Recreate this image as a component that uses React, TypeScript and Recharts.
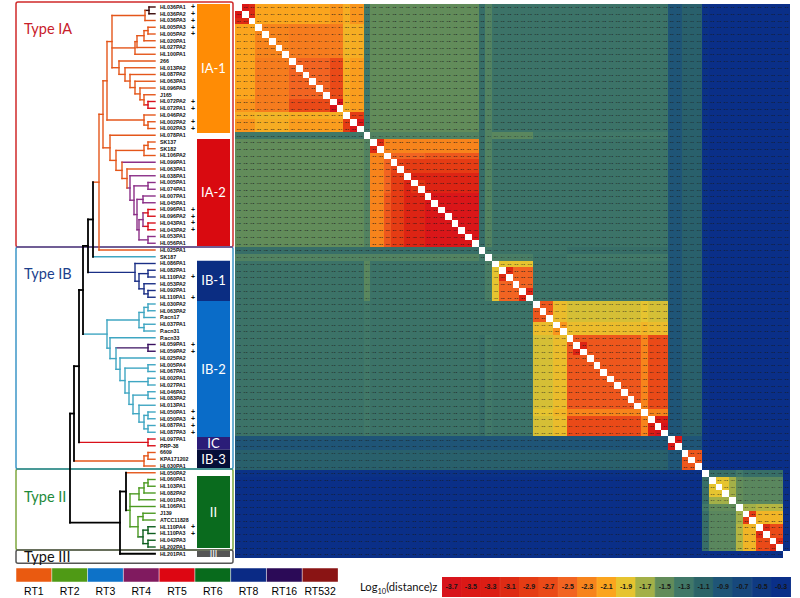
import React from 'react';
import {
  Bar,
  BarChart,
  Cell,
  LabelList,
  ReferenceArea,
  ReferenceLine,
  Scatter,
  ScatterChart,
  XAxis,
  YAxis,
} from 'recharts';

const leafNames = [
  'HL036PA1', 'HL036PA2', 'HL036PA3', 'HL005PA3', 'HL005PA2', 'HL020PA1', 'HL027PA2', 'HL100PA1', '266', 'HL013PA2',
  'HL087PA2', 'HL063PA1', 'HL096PA3', 'J165', 'HL072PA2', 'HL072PA1', 'HL046PA2', 'HL002PA2', 'HL002PA3', 'HL078PA1',
  'SK137', 'SK182', 'HL106PA2', 'HL099PA1', 'HL063PA1', 'HL038PA1', 'HL005PA1', 'HL074PA1', 'HL007PA1', 'HL045PA1',
  'HL096PA1', 'HL096PA2', 'HL043PA1', 'HL043PA2', 'HL053PA1', 'HL056PA1', 'HL025PA1', 'SK187', 'HL086PA1', 'HL082PA1',
  'HL110PA2', 'HL053PA2', 'HL092PA1', 'HL110PA1', 'HL030PA2', 'HL063PA2', 'P.acn17', 'HL037PA1', 'P.acn31', 'P.acn33',
  'HL059PA1', 'HL059PA2', 'HL025PA2', 'HL005PA4', 'HL067PA1', 'HL002PA1', 'HL027PA1', 'HL046PA1', 'HL083PA2', 'HL013PA1',
  'HL050PA1', 'HL050PA3', 'HL087PA1', 'HL087PA3', 'HL097PA1', 'PRP-38', '6609', 'KPA171202', 'HL030PA1', 'HL050PA2',
  'HL060PA1', 'HL103PA1', 'HL082PA2', 'HL001PA1', 'HL106PA1', 'J139', 'ATCC11828', 'HL110PA4', 'HL110PA3', 'HL042PA3',
  'HL202PA1', 'HL201PA1',
];
const plusLeaves = [0, 1, 2, 3, 4, 14, 15, 17, 18, 30, 31, 32, 33, 40, 43, 50, 51, 60, 61, 62, 63, 77, 78];

// heatmap is read as runs of leaves that share a colour, levels[r][c] is the value between run r and run c
const runSizes = [3, 5, 6, 2, 1, 2, 1, 2, 1, 2, 1, 2, 8, 1, 1, 1, 5, 3, 2, 11, 1, 3, 2, 3, 1, 3, 1, 1, 2, 4, 1];
const runLevels = [
  [-3.1],
  [-2.1, -2.3],
  [-2.1, -2.35, -2.5],
  [-2.2, -2.35, -2.7, -3.5],
  [-2.05, -2.0, -2.05, -2.05, -2.9],
  [-2.2, -2.05, -2.15, -2.15, -2.9, -3.3],
  [-1.3, -1.3, -1.3, -1.3, -1.3, -1.3, -1.3],
  [-1.5, -1.5, -1.5, -1.5, -1.5, -1.5, -1.4, -3.1],
  [-1.5, -1.5, -1.5, -1.5, -1.5, -1.5, -1.4, -2.3, -2.5],
  [-1.5, -1.5, -1.5, -1.5, -1.5, -1.5, -1.4, -2.3, -2.5, -2.8],
  [-1.5, -1.5, -1.5, -1.5, -1.5, -1.5, -1.4, -2.3, -2.5, -2.9, -3.0],
  [-1.5, -1.5, -1.5, -1.5, -1.5, -1.5, -1.4, -2.3, -2.5, -2.9, -3.2, -3.0],
  [-1.5, -1.5, -1.5, -1.5, -1.5, -1.5, -1.4, -2.3, -2.6, -2.9, -3.2, -3.2, -3.6],
  [-1.2, -1.2, -1.2, -1.2, -1.2, -1.2, -1.2, -1.2, -1.2, -1.2, -1.2, -1.2, -1.2, -1.3],
  [-1.4, -1.4, -1.4, -1.4, -1.4, -1.4, -1.4, -1.4, -1.4, -1.4, -1.4, -1.4, -1.4, -1.3, -1.3],
  [-1.25, -1.25, -1.25, -1.25, -1.25, -1.25, -1.45, -1.25, -1.25, -1.25, -1.25, -1.25, -1.25, -1.25, -1.35, -1.9],
  [-1.25, -1.25, -1.25, -1.25, -1.25, -1.25, -1.45, -1.25, -1.25, -1.25, -1.25, -1.25, -1.25, -1.25, -1.35, -1.9, -2.5],
  [-1.25, -1.25, -1.25, -1.25, -1.25, -1.25, -1.3, -1.25, -1.25, -1.25, -1.25, -1.25, -1.25, -1.25, -1.25, -1.25, -1.25, -2.6],
  [-1.25, -1.25, -1.25, -1.25, -1.25, -1.25, -1.3, -1.25, -1.25, -1.25, -1.25, -1.25, -1.25, -1.25, -1.25, -1.25, -1.25, -1.95, -2.2],
  [-1.25, -1.25, -1.25, -1.25, -1.25, -1.25, -1.3, -1.25, -1.25, -1.25, -1.25, -1.25, -1.25, -1.2, -1.3, -1.25, -1.25, -1.85, -1.95, -2.6],
  [-1.25, -1.25, -1.25, -1.25, -1.25, -1.25, -1.3, -1.25, -1.25, -1.25, -1.25, -1.25, -1.25, -1.2, -1.3, -1.25, -1.25, -1.9, -2.0, -2.3, -2.3],
  [-1.25, -1.25, -1.25, -1.25, -1.25, -1.25, -1.3, -1.25, -1.25, -1.25, -1.25, -1.25, -1.25, -1.2, -1.3, -1.25, -1.25, -1.85, -1.95, -2.7, -2.3, -3.3],
  [-0.9, -0.9, -0.9, -0.9, -0.9, -0.9, -0.9, -0.9, -0.9, -0.9, -0.9, -0.9, -0.9, -0.9, -0.9, -0.9, -0.9, -0.9, -0.9, -0.9, -0.9, -0.9, -3.3],
  [-1.05, -1.05, -1.05, -1.05, -1.05, -1.05, -1.05, -1.05, -1.05, -1.05, -1.05, -1.05, -1.05, -1.05, -1.05, -1.05, -1.05, -1.05, -1.05, -1.05, -1.05, -1.05, -0.9, -2.6],
  [-0.35, -0.35, -0.35, -0.35, -0.35, -0.35, -0.35, -0.35, -0.35, -0.35, -0.35, -0.35, -0.35, -0.35, -0.35, -0.35, -0.35, -0.35, -0.35, -0.35, -0.35, -0.35, -0.35, -0.35, -0.35],
  [-0.3, -0.3, -0.3, -0.3, -0.3, -0.3, -0.3, -0.3, -0.3, -0.3, -0.3, -0.3, -0.3, -0.3, -0.3, -0.3, -0.3, -0.3, -0.3, -0.3, -0.3, -0.3, -0.3, -0.3, -1.2, -1.9],
  [-0.3, -0.3, -0.3, -0.3, -0.3, -0.3, -0.3, -0.3, -0.3, -0.3, -0.3, -0.3, -0.3, -0.3, -0.3, -0.3, -0.3, -0.3, -0.3, -0.3, -0.3, -0.3, -0.3, -0.3, -1.2, -1.7, -1.7],
  [-0.3, -0.3, -0.3, -0.3, -0.3, -0.3, -0.3, -0.3, -0.3, -0.3, -0.3, -0.3, -0.3, -0.3, -0.3, -0.3, -0.3, -0.3, -0.3, -0.3, -0.3, -0.3, -0.3, -0.3, -1.3, -1.5, -1.5, -1.7],
  [-0.3, -0.3, -0.3, -0.3, -0.3, -0.3, -0.3, -0.3, -0.3, -0.3, -0.3, -0.3, -0.3, -0.3, -0.3, -0.3, -0.3, -0.3, -0.3, -0.3, -0.3, -0.3, -0.3, -0.3, -1.2, -1.45, -1.45, -1.7, -2.6],
  [-0.3, -0.3, -0.3, -0.3, -0.3, -0.3, -0.3, -0.3, -0.3, -0.3, -0.3, -0.3, -0.3, -0.3, -0.3, -0.3, -0.3, -0.3, -0.3, -0.3, -0.3, -0.3, -0.3, -0.3, -1.2, -1.45, -1.45, -1.75, -2.0, -2.7],
  [-0.3, -0.3, -0.3, -0.3, -0.3, -0.3, -0.3, -0.3, -0.3, -0.3, -0.3, -0.3, -0.3, -0.3, -0.3, -0.3, -0.3, -0.3, -0.3, -0.3, -0.3, -0.3, -0.3, -0.3, -0.3, -0.3, -0.3, -0.3, -0.3, -0.3, -0.3],
];
// closest pairs, redder than the rest of their run
const closePairs = [
  [0, 1, -3.5], [14, 15, -3.7], [17, 18, -3.6], [30, 31, -3.7], [32, 33, -3.7], [39, 40, -3.1], [42, 43, -3.2],
  [50, 51, -3.2], [62, 63, -3.7], [64, 65, -3.5], [75, 76, -2.9], [77, 78, -3.1], [79, 80, -3.1],
];

const legendLevels = [-3.7, -3.5, -3.3, -3.1, -2.9, -2.7, -2.5, -2.3, -2.1, -1.9, -1.7, -1.5, -1.3, -1.1, -0.9, -0.7, -0.5, -0.3];
const legendColors = [
  '#d8141c', '#db1816', '#dc1d14', '#de2b14', '#e53c14', '#ea4a18', '#f26422', '#f7841c', '#fba51e',
  '#e6c430', '#a3b048', '#628c5a', '#417868', '#2c6468', '#1f5577', '#17487c', '#0f3a82', '#0a2f88',
];

const rtNames = ['RT1', 'RT2', 'RT3', 'RT4', 'RT5', 'RT6', 'RT8', 'RT16', 'RT532'];
const rtColors = ['#ea5a10', '#4f9a15', '#0d72c8', '#801a5f', '#dd0612', '#086b1c', '#0a2a85', '#2b0a57', '#8a1414'];

const o = '#e4561a';
const p = '#8b2f87';
const r = '#d9101a';
const t = '#3fa6c2';
const nv = '#1a2f86';
const g = '#4c9a22';
const dg = '#0d5e1e';
const k = '#000000';
const dk = '#3a0a0a';
const dp = '#3a1060';

type TreeNode = { x: number; color: string; kids: (TreeNode | string)[] };
const n = (x: number, color: string, ...kids: (TreeNode | string)[]): TreeNode => ({ x, color, kids });

const dendrogram = n(70, k,
  n(74, k,
    n(79, k,
      n(83, k,
        n(88, k,
          n(93, k,
            n(99, o,
              n(103, o,
                n(107, o,
                  n(112, o,
                    n(145, o, n(149, dk, dk, dk), o),
                    n(135, o, n(137, o, n(144, o, n(148, o, o, o), o), o), o),
                    n(119, o, o, n(125, o, o, n(130, o, o, n(135, o, o, n(140, o, o, n(144, o, o, n(148, r, r, r))))))),
                  ),
                  n(144, o, o, n(148, o, o, o)),
                ),
                n(110, o,
                  o,
                  n(116, o,
                    n(144, o, n(148, o, o, o), o),
                    n(122, o,
                      p,
                      n(127, o,
                        o,
                        n(130, p,
                          p,
                          n(134, p,
                            n(148, p, p, p),
                            n(137, p,
                              n(143, p, p, p),
                              n(139, p, n(143, p, n(148, r, r, r), n(148, r, r, r)), n(148, p, p, p)),
                            ),
                          ),
                        ),
                      ),
                    ),
                  ),
                ),
              ),
              o,
            ),
            t,
          ),
          n(135, nv, nv, n(139, nv, n(148, nv, nv, nv), n(144, nv, nv, n(148, nv, nv, nv)))),
        ),
        n(107, t,
          n(139, t, n(144, t, n(148, t, t, t), t), n(144, t, t, t)),
          n(110, t,
            t,
            n(116, t,
              n(148, dp, dp, dp),
              n(120, t,
                t,
                n(125, t,
                  n(148, t, t, t),
                  n(129, t,
                    n(148, t, t, t),
                    n(133, t, n(148, t, t, t), n(139, t, t, n(144, t, n(148, t, t, t), n(148, t, t, t)))),
                  ),
                ),
              ),
            ),
          ),
        ),
      ),
      n(148, r, r, r),
    ),
    n(144, o, n(148, o, o, o), o),
  ),
  n(120, k,
    n(126, k,
      o,
      n(130, g,
        n(139, g, n(144, g, n(148, g, g, g), g), g),
        g,
        n(138, g, n(143, g, g, g), n(143, dg, n(148, dg, dg, dg), n(148, dg, dg, dg))),
      ),
    ),
    k,
  ),
);

const LEAF_TIP = 155;

type Branch = { x1: number; y1: number; x2: number; y2: number; color: string };
const branches: Branch[] = [];
let nextLeaf = 0;
const walk = (node: TreeNode): number => {
  const kids = node.kids.map((kid) => {
    if (typeof kid === 'string') return { y: nextLeaf++, x: LEAF_TIP, color: kid };
    return { y: walk(kid), x: kid.x, color: kid.color };
  });
  kids.forEach((kid) => branches.push({ x1: node.x, y1: kid.y, x2: kid.x, y2: kid.y, color: kid.color }));
  const first = kids[0].y;
  const last = kids[kids.length - 1].y;
  branches.push({ x1: node.x, y1: first, x2: node.x, y2: last, color: node.color });
  return (first + last) / 2;
};
walk(dendrogram);

const leafTable = leafNames.map((name, i) => ({ x: 160, y: i, name, plus: plusLeaves.includes(i) }));

const typeBoxes = [
  { y1: -0.75, y2: 35.55, stroke: '#cf2a2a' },
  { y1: 35.55, y2: 68.45, stroke: '#3c96c8' },
  { y1: 68.45, y2: 80.45, stroke: '#7fa83f' },
  { y1: 80.45, y2: 82.4, stroke: '#555555' },
];
const cladeBars = [
  { name: 'IA-1', y1: -0.45, y2: 18.65, fill: '#ff8c05' },
  { name: 'IA-2', y1: 19.55, y2: 35.4, fill: '#d90a10' },
  { name: 'IB-1', y1: 37.6, y2: 43.55, fill: '#0b2d82' },
  { name: 'IB-2', y1: 43.55, y2: 63.7, fill: '#0a6cc8' },
  { name: 'IC', y1: 63.7, y2: 65.6, fill: '#2b1d78' },
  { name: 'IB-3', y1: 65.6, y2: 68.3, fill: '#050f38' },
  { name: 'II', y1: 69.5, y2: 80.15, fill: '#0a6b1e' },
  { name: 'III', y1: 80.6, y2: 81.5, fill: '#555555' },
];
const typeLabels = [
  { text: 'Type IA', left: 24, top: 20, color: '#c8202a' },
  { text: 'Type IB', left: 24, top: 265, color: '#1c3f8c' },
  { text: 'Type II', left: 24, top: 488, color: '#1e8a3a' },
  { text: 'Type III', left: 24, top: 548, color: '#111111' },
];

// leaf index -> run index
const runOfLeaf: number[] = [];
runSizes.forEach((size, run) => {
  for (let i = 0; i < size; i++) runOfLeaf.push(run);
});

const colorFor = (v: number) => {
  const pos = Math.min(17, Math.max(0, (v + 3.7) / 0.2));
  const lo = Math.floor(pos);
  const hi = Math.min(17, lo + 1);
  const mix = (a: string, b: string, s: number) =>
    Math.round(parseInt(a.slice(s, s + 2), 16) * (1 - (pos - lo)) + parseInt(b.slice(s, s + 2), 16) * (pos - lo));
  const [a, b] = [legendColors[lo], legendColors[hi]];
  return `rgb(${mix(a, b, 1)},${mix(a, b, 3)},${mix(a, b, 5)})`;
};

const cellValue = (row: number, col: number) => {
  if (row === col) return null;
  const close = closePairs.find((c) => (c[0] === row && c[1] === col) || (c[0] === col && c[1] === row));
  if (close) return close[2];
  const a = runOfLeaf[row];
  const b = runOfLeaf[col];
  return a >= b ? runLevels[a][b] : runLevels[b][a];
};

const heatCells: { x: number; y: number; v: number | null }[] = [];
leafNames.forEach((_, row) => {
  leafNames.forEach((__, col) => {
    heatCells.push({ x: col + 0.5, y: row + 0.5, v: cellValue(row, col) });
  });
});

const HEAT_W = 555;
const HEAT_H = 554;
const CELL_W = HEAT_W / leafNames.length;
const CELL_H = HEAT_H / leafNames.length;

const HeatCell = (props: any) => {
  const { cx, cy, payload } = props;
  const v = payload.v;
  const x = Math.round(cx - CELL_W / 2);
  const y = Math.round(cy - CELL_H / 2);
  const w = Math.round(cx + CELL_W / 2) - x;
  const h = Math.round(cy + CELL_H / 2) - y;
  if (v === null) return <rect x={x} y={y} width={w} height={h} fill="#ffffff" shapeRendering="crispEdges" />;
  return (
    <g>
      <rect x={x} y={y} width={w} height={h} fill={colorFor(v)} shapeRendering="crispEdges" />
      <text x={cx} y={cy + 0.8} textAnchor="middle" fontSize={2.5} fontWeight="bold" fontFamily="Liberation Sans" fill="#1a1a1a">
        {v.toFixed(1)}
      </text>
    </g>
  );
};

const LeafLabel = (props: any) => {
  const { cx, cy, payload } = props;
  return (
    <g fontFamily="Liberation Sans" fontWeight="bold" fill="#111111">
      <text x={cx} y={cy + 1.9} fontSize={5.3}>
        {payload.name}
      </text>
      {payload.plus && (
        <text x={cx + 31} y={cy + 2.4} fontSize={7}>
          +
        </text>
      )}
    </g>
  );
};

const rtTable = rtNames.map((name) => ({ name, span: 1 }));
const legendTable = legendLevels.map((level) => ({ level: level.toFixed(1), span: 1 }));
const noMargin = { top: 0, right: 0, bottom: 0, left: 0 };

export default function App() {
  return (
    <div style={{ position: 'absolute', left: 0, top: 0, width: 800, height: 598, background: '#fff', overflow: 'hidden' }}>
      <div style={{ position: 'absolute', left: 235, top: 4 }}>
        <ScatterChart width={HEAT_W} height={HEAT_H} margin={noMargin}>
          <XAxis type="number" dataKey="x" domain={[0, 82]} hide />
          <YAxis type="number" dataKey="y" domain={[0, 82]} reversed hide />
          <Scatter data={heatCells} shape={HeatCell} isAnimationActive={false} />
        </ScatterChart>
      </div>

      <div style={{ position: 'absolute', left: 0, top: 0 }}>
        <ScatterChart width={235} height={565} margin={noMargin}>
          <XAxis type="number" dataKey="x" domain={[0, 235]} hide />
          <YAxis type="number" dataKey="y" domain={[-1.037, 82.667]} reversed hide />
          {cladeBars.map((bar) => (
            <ReferenceArea
              key={bar.name}
              x1={197}
              x2={230}
              y1={bar.y1}
              y2={bar.y2}
              fill={bar.fill}
              fillOpacity={1}
              stroke="none"
              label={{ value: bar.name, fill: '#ffffff', fontSize: bar.name === 'III' ? 9 : 13, fontFamily: 'Lato', position: 'center' }}
            />
          ))}
          {typeBoxes.map((box) => (
            <ReferenceArea
              key={box.stroke}
              x1={16}
              x2={233}
              y1={box.y1}
              y2={box.y2}
              fill="none"
              stroke={box.stroke}
              strokeWidth={1.5}
              radius={2}
            />
          ))}
          <ReferenceLine segment={[{ x: 16, y: 35.55 }, { x: 233, y: 35.55 }]} stroke="#74508e" strokeWidth={1.6} />
          <ReferenceLine segment={[{ x: 16, y: 68.45 }, { x: 233, y: 68.45 }]} stroke="#3a93a8" strokeWidth={1.6} />
          {branches.map((b, i) => (
            <ReferenceLine
              key={i}
              segment={[{ x: b.x1, y: b.y1 }, { x: b.x2, y: b.y2 }]}
              stroke={b.color}
              strokeWidth={b.color === k ? 1.8 : 1.4}
              strokeLinecap="square"
            />
          ))}
          <Scatter data={leafTable} shape={LeafLabel} isAnimationActive={false} />
        </ScatterChart>
      </div>

      {typeLabels.map((label) => (
        <div
          key={label.text}
          style={{ position: 'absolute', left: label.left, top: label.top, color: label.color, fontFamily: 'Lato', fontSize: 14.5, lineHeight: '18px', whiteSpace: 'nowrap' }}
        >
          {label.text}
        </div>
      ))}

      <div style={{ position: 'absolute', left: 16, top: 568 }}>
        <BarChart width={322} height={30} data={rtTable} margin={noMargin} barCategoryGap={0}>
          <XAxis
            dataKey="name"
            axisLine={false}
            tickLine={false}
            height={16}
            interval={0}
            tickMargin={0}
            tick={{ fontSize: 10.5, fill: '#000000', fontFamily: 'Liberation Sans' }}
          />
          <YAxis domain={[0, 1]} hide />
          <Bar dataKey="span" stroke="#ffffff" strokeWidth={0.5} isAnimationActive={false}>
            {rtTable.map((row, i) => (
              <Cell key={row.name} fill={rtColors[i]} />
            ))}
          </Bar>
        </BarChart>
      </div>

      <div style={{ position: 'absolute', left: 360, top: 579, color: '#111', fontFamily: 'Lato', fontSize: 11.2, lineHeight: '16px', whiteSpace: 'nowrap' }}>
        Log<sub style={{ fontSize: 7.5, lineHeight: 0 }}>10</sub>(distance)z
      </div>
      <div style={{ position: 'absolute', left: 442, top: 577 }}>
        <BarChart width={349} height={20} data={legendTable} margin={noMargin} barCategoryGap={0}>
          <XAxis dataKey="level" hide />
          <YAxis domain={[0, 1]} hide />
          <Bar dataKey="span" isAnimationActive={false}>
            {legendTable.map((row, i) => (
              <Cell key={row.level} fill={legendColors[i]} stroke={legendColors[i]} />
            ))}
            <LabelList dataKey="level" position="center" fontSize={7} fontWeight="bold" fontFamily="Liberation Sans" fill="#161616" />
          </Bar>
        </BarChart>
      </div>
    </div>
  );
}
